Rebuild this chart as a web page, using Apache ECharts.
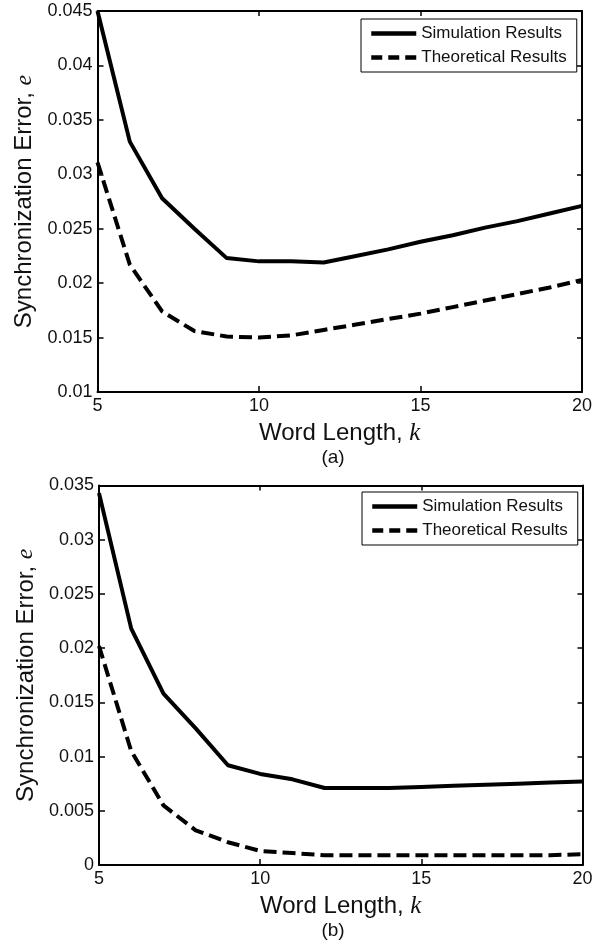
<!DOCTYPE html>
<html>
<head>
<meta charset="utf-8">
<script src="https://cdn.jsdelivr.net/npm/echarts@6/dist/echarts.min.js"></script>
<style>
html,body{margin:0;padding:0;background:#fff;}
#chart{width:609px;height:945px;}
</style>
</head>
<body>
<div id="chart"></div>
<script>
// Word length k
const wordLength = [5, 6, 7, 8, 9, 10, 11, 12, 13, 14, 15, 16, 17, 18, 19, 20];

// (a)
const simA = [0.0450, 0.0330, 0.0278, 0.0250, 0.0223, 0.0220, 0.0220, 0.0219, 0.0225, 0.0231, 0.0238, 0.0244, 0.0251, 0.0257, 0.0264, 0.0271];
const theoA = [0.0311, 0.0217, 0.0174, 0.0156, 0.0151, 0.0150, 0.0152, 0.0157, 0.0162, 0.0167, 0.0172, 0.0178, 0.0184, 0.0190, 0.0196, 0.0203];

// (b)
const simB = [0.0343, 0.0218, 0.0158, 0.0126, 0.0092, 0.0084, 0.0079, 0.0071, 0.0071, 0.0071, 0.0072, 0.0073, 0.0074, 0.0075, 0.0076, 0.0077];
const theoB = [0.0202, 0.0105, 0.0055, 0.0032, 0.0021, 0.0013, 0.0011, 0.0009, 0.0009, 0.0009, 0.0009, 0.0009, 0.0009, 0.0009, 0.0009, 0.0010];

const xTicks = [5, 10, 15, 20];
const yTicksA = [0.01, 0.015, 0.02, 0.025, 0.03, 0.035, 0.04, 0.045];
const yTicksB = [0, 0.005, 0.01, 0.015, 0.02, 0.025, 0.03, 0.035];

const seriesNames = ['Simulation Results', 'Theoretical Results'];
const captions = ['(a)', '(b)'];
const xTitle = 'Word Length, ';
const xVar = 'k';
const yTitle = 'Synchronization Error, ';
const yVar = 'e';

const FONT = '"Liberation Sans", Arial, sans-serif';
const SERIF = '"Liberation Serif", "DejaVu Serif", serif';
const TXT = '#111';

function pairs(xs, ys) { return xs.map((x, i) => [x, ys[i]]); }
function fmt(v) { return String(parseFloat(v.toFixed(3))); }

const grids = [
  { left: 97.5, top: 11, width: 484.5, height: 381 },
  { left: 99, top: 485.5, width: 483.5, height: 379.5 }
];

const axisLine = { show: true, onZero: false, lineStyle: { color: '#000', width: 2 } };

function xAxes(gi) {
  return [
    {
      type: 'value', gridIndex: gi, position: 'bottom',
      min: xTicks[0], max: xTicks[xTicks.length - 1], interval: 5,
      axisLine: axisLine,
      axisTick: { show: true, inside: true, length: 6, lineStyle: { color: '#000', width: 1.5 } },
      axisLabel: { show: true, margin: 5, fontSize: 18, fontFamily: FONT, color: TXT, formatter: v => String(v) },
      splitLine: { show: false },
      name: '{a|' + xTitle + '}{b|' + xVar + '}',
      nameLocation: 'middle', nameGap: 29,
      nameTextStyle: {
        rich: {
          a: { fontSize: 24, fontFamily: FONT, color: TXT },
          b: { fontSize: 25, fontFamily: SERIF, fontStyle: 'italic', color: TXT }
        }
      }
    },
    {
      type: 'value', gridIndex: gi, position: 'top',
      min: xTicks[0], max: xTicks[xTicks.length - 1], interval: 5,
      axisLine: axisLine,
      axisTick: { show: true, inside: true, length: 5, lineStyle: { color: '#000', width: 1.5 } },
      axisLabel: { show: false },
      splitLine: { show: false }
    }
  ];
}

function yAxes(gi, ticks) {
  const mn = ticks[0], mx = ticks[ticks.length - 1];
  return [
    {
      type: 'value', gridIndex: gi, position: 'left',
      min: mn, max: mx, interval: 0.005,
      axisLine: axisLine,
      axisTick: { show: true, inside: true, length: 6, lineStyle: { color: '#000', width: 1.5 } },
      axisLabel: { show: true, margin: 5, fontSize: 18, fontFamily: FONT, color: TXT, formatter: fmt },
      splitLine: { show: false },
      name: '{a|' + yTitle + '}{b|' + yVar + '}',
      nameLocation: 'middle', nameGap: 55, nameRotate: 90,
      nameTextStyle: {
        rich: {
          a: { fontSize: 24, fontFamily: FONT, color: TXT },
          b: { fontSize: 24, fontFamily: SERIF, fontStyle: 'italic', color: TXT }
        }
      }
    },
    {
      type: 'value', gridIndex: gi, position: 'right',
      min: mn, max: mx, interval: 0.005,
      axisLine: axisLine,
      axisTick: { show: true, inside: true, length: 5, lineStyle: { color: '#000', width: 1.5 } },
      axisLabel: { show: false },
      splitLine: { show: false }
    }
  ];
}

function mkSeries(name, data, xi, yi, dashed) {
  return {
    type: 'line', name: name, data: data,
    xAxisIndex: xi, yAxisIndex: yi,
    symbol: 'none', showSymbol: false, smooth: false,
    lineStyle: { color: '#000', width: 4, type: dashed ? [13, 6] : 'solid' },
    itemStyle: { color: '#000' },
    z: 5
  };
}

const hiddenSymbol = { color: 'rgba(0,0,0,0)', borderColor: 'rgba(0,0,0,0)', borderWidth: 0, opacity: 0 };

function mkLegend(left, top) {
  return {
    show: true, orient: 'vertical', left: left, top: top,
    backgroundColor: '#fff', borderColor: '#000', borderWidth: 1,
    padding: [6, 10, 6, 8], itemGap: 7, itemWidth: 45, itemHeight: 14,
    align: 'left',
    textStyle: { fontSize: 17, fontFamily: FONT, color: TXT },
    itemStyle: hiddenSymbol,
    data: [
      { name: seriesNames[0], itemStyle: hiddenSymbol, lineStyle: { color: '#000', type: 'solid', width: 4.5, opacity: 1 } },
      { name: seriesNames[1], itemStyle: hiddenSymbol, lineStyle: { color: '#000', type: [11, 6], width: 4.5, opacity: 1 } }
    ],
    selectedMode: false
  };
}

const option = {
  animation: false,
  backgroundColor: '#fff',
  grid: grids,
  xAxis: [...xAxes(0), ...xAxes(1)],
  yAxis: [...yAxes(0, yTicksA), ...yAxes(1, yTicksB)],
  legend: [mkLegend(361, 19), mkLegend(362, 492)],
  series: [
    mkSeries(seriesNames[0], pairs(wordLength, simA), 0, 0, false),
    mkSeries(seriesNames[1], pairs(wordLength, theoA), 0, 0, true),
    mkSeries(seriesNames[0], pairs(wordLength, simB), 2, 2, false),
    mkSeries(seriesNames[1], pairs(wordLength, theoB), 2, 2, true)
  ],
  graphic: [
    { type: 'text', x: 333, y: 458, style: { text: captions[0], fill: TXT, fontSize: 19, fontFamily: FONT, align: 'center', verticalAlign: 'middle' } },
    { type: 'text', x: 333, y: 931, style: { text: captions[1], fill: TXT, fontSize: 19, fontFamily: FONT, align: 'center', verticalAlign: 'middle' } }
  ]
};

const chart = echarts.init(document.getElementById('chart'), null, { renderer: 'canvas' });
chart.setOption(option);
</script>
</body>
</html>
